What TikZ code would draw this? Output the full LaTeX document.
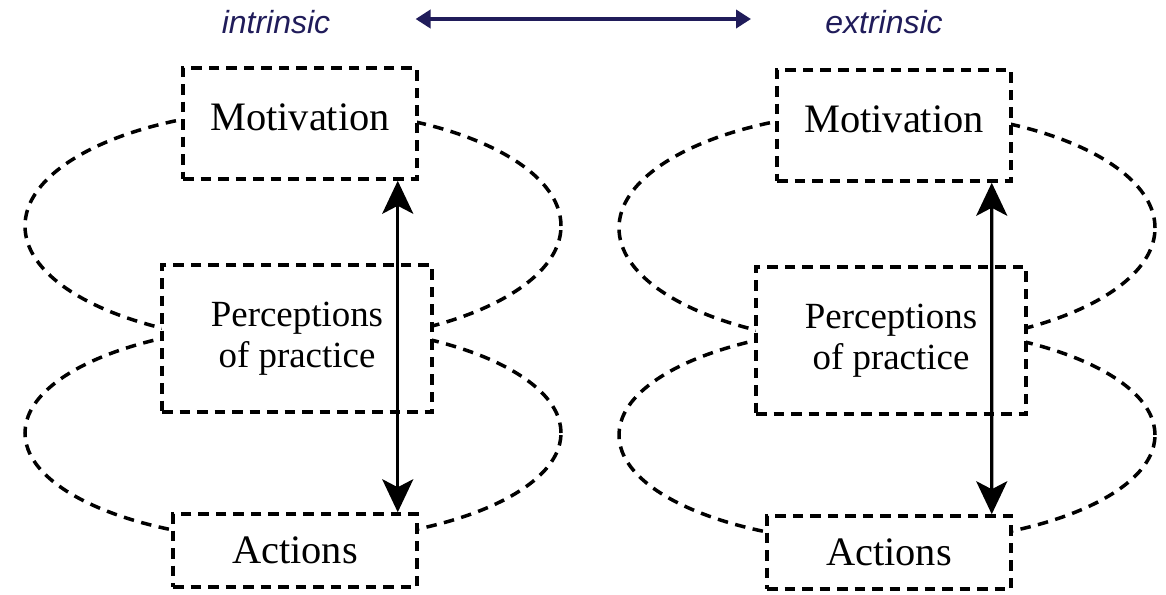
\documentclass[tikz,border=0pt]{standalone}
\usepackage{fontspec}
\setmainfont{Liberation Serif}
\newfontfamily\arialfont{Liberation Sans}
\usetikzlibrary{arrows.meta,positioning}
\definecolor{topnavy}{RGB}{32,28,90}

\begin{document}
\begin{tikzpicture}[
    box/.style={rectangle, draw, fill=white, dash pattern=on 0.21cm off 0.14cm, line width=0.07cm, align=center, font=\fontsize{23}{26}\selectfont},
    loopline/.style={draw, dash pattern=on 0.21cm off 0.15cm, line width=0.07cm},
    arrow/.style={{Stealth[length=0.66cm,width=0.62cm,inset=0.16cm]}-{Stealth[length=0.66cm,width=0.62cm,inset=0.16cm]}, line width=0.065cm},
    scalearrow/.style={{Triangle[length=0.3cm,width=0.36cm]}-{Triangle[length=0.3cm,width=0.36cm]}, line width=0.08cm, topnavy},
    scalelabel/.style={inner sep=0pt, text=topnavy, font=\arialfont\itshape\fontsize{18.2}{20}\selectfont}
]
\useasboundingbox (0,0) rectangle (23.32,-11.88);

% Scale
\node[scalelabel] (intr) at (5.52,-0.44) {intrinsic};
\node[scalelabel] (extr) at (17.68,-0.44) {extrinsic};
\draw[scalearrow] ([xshift=1.7cm,yshift=0.06cm]intr.east) -- ([xshift=-1.48cm,yshift=0.06cm]extr.west);

% Intrinsic loops
\draw[loopline] (5.86,-4.52) ellipse [x radius=5.36, y radius=2.34];
\draw[loopline] (5.86,-8.66) ellipse [x radius=5.36, y radius=2.17];

% Intrinsic boxes
\node[box, minimum width=4.68cm, minimum height=2.22cm, text depth=0.25cm] (motL) at (6.00,-2.47) {Motivation};
\node[box, minimum width=5.40cm, minimum height=2.94cm, font=\fontsize{21}{23.3}\selectfont] (percL) at (5.94,-6.77) {Perceptions\\of practice};
\node[box, minimum width=4.88cm, minimum height=1.46cm] (actL) at (5.90,-11.01) {Actions};
\draw[arrow] ([xshift=-0.42cm]motL.south east) -- ([xshift=-0.42cm]actL.north east);

% Extrinsic loops
\draw[loopline] (17.74,-4.56) ellipse [x radius=5.36, y radius=2.34];
\draw[loopline] (17.74,-8.70) ellipse [x radius=5.36, y radius=2.17];

% Extrinsic boxes
\node[box, minimum width=4.68cm, minimum height=2.22cm, text depth=0.25cm] (motR) at (17.88,-2.51) {Motivation};
\node[box, minimum width=5.40cm, minimum height=2.94cm, font=\fontsize{21}{23.3}\selectfont] (percR) at (17.82,-6.81) {Perceptions\\of practice};
\node[box, minimum width=4.88cm, minimum height=1.46cm] (actR) at (17.78,-11.05) {Actions};
\draw[arrow] ([xshift=-0.42cm]motR.south east) -- ([xshift=-0.42cm]actR.north east);

\end{tikzpicture}
\end{document}
